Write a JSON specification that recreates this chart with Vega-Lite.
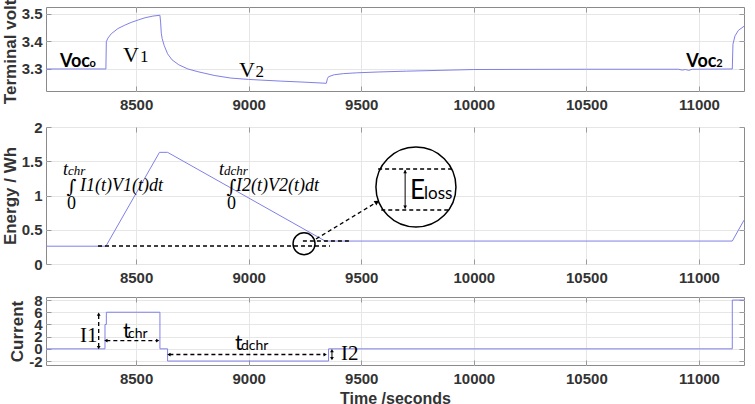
{
  "$schema": "https://vega.github.io/schema/vega-lite/v6.json",
  "padding": {"top": -7, "left": 0, "right": 5, "bottom": 5},
  "background": "white",
  "spacing": 6,
  "datasets": {
    "volt": [
      {"x": 8100, "y": 3.300}, {"x": 8366, "y": 3.300}, {"x": 8368, "y": 3.399}, {"x": 8375, "y": 3.412},
      {"x": 8390, "y": 3.428}, {"x": 8420, "y": 3.447}, {"x": 8450, "y": 3.459}, {"x": 8478, "y": 3.469},
      {"x": 8510, "y": 3.478}, {"x": 8540, "y": 3.486}, {"x": 8575, "y": 3.492}, {"x": 8606, "y": 3.495},
      {"x": 8609, "y": 3.470}, {"x": 8612, "y": 3.430}, {"x": 8616, "y": 3.410}, {"x": 8625, "y": 3.385},
      {"x": 8640, "y": 3.355}, {"x": 8660, "y": 3.333}, {"x": 8690, "y": 3.315}, {"x": 8730, "y": 3.300},
      {"x": 8775, "y": 3.290}, {"x": 8850, "y": 3.276}, {"x": 8920, "y": 3.267}, {"x": 9000, "y": 3.262},
      {"x": 9140, "y": 3.256}, {"x": 9250, "y": 3.252}, {"x": 9345, "y": 3.248}, {"x": 9350, "y": 3.265},
      {"x": 9355, "y": 3.272}, {"x": 9380, "y": 3.279}, {"x": 9420, "y": 3.283}, {"x": 9480, "y": 3.286},
      {"x": 9575, "y": 3.289}, {"x": 9700, "y": 3.292}, {"x": 9850, "y": 3.295}, {"x": 10000, "y": 3.298},
      {"x": 10500, "y": 3.299}, {"x": 10910, "y": 3.299}, {"x": 10925, "y": 3.296}, {"x": 10940, "y": 3.298},
      {"x": 10955, "y": 3.295}, {"x": 10970, "y": 3.299}, {"x": 11148, "y": 3.300}, {"x": 11151, "y": 3.390},
      {"x": 11160, "y": 3.420}, {"x": 11175, "y": 3.440}, {"x": 11200, "y": 3.455}
    ],
    "energy": [
      {"x": 8100, "y": 0.26}, {"x": 8366, "y": 0.26}, {"x": 8604, "y": 1.63}, {"x": 8640, "y": 1.63},
      {"x": 9340, "y": 0.335}, {"x": 11148, "y": 0.335}, {"x": 11200, "y": 0.64}
    ],
    "current": [
      {"x": 8100, "y": 0}, {"x": 8362, "y": 4}, {"x": 8368, "y": 6}, {"x": 8606, "y": 0},
      {"x": 8640, "y": -2}, {"x": 9355, "y": 0}, {"x": 11148, "y": 8}, {"x": 11200, "y": 8}
    ],
    "p1t": [
      {"x": 8162, "y": 3.307, "label": "Voc", "kind": "voc"},
      {"x": 10944, "y": 3.307, "label": "Voc", "kind": "voc"},
      {"x": 8293, "y": 3.307, "label": "o", "kind": "vocsub"},
      {"x": 11077, "y": 3.307, "label": "2", "kind": "vocsub"},
      {"x": 8442, "y": 3.325, "label": "V", "kind": "v"},
      {"x": 8957, "y": 3.271, "label": "V", "kind": "v"},
      {"x": 8518, "y": 3.325, "label": "1", "kind": "vsub"},
      {"x": 9030, "y": 3.271, "label": "2", "kind": "vsub"}
    ],
    "p2t": [
      {"x": 8175, "y": 1.30, "label": "t", "kind": "it"},
      {"x": 8868, "y": 1.30, "label": "t", "kind": "it"},
      {"x": 8251, "y": 1.07, "label": "I1(t)V1(t)dt", "kind": "it"},
      {"x": 8944, "y": 1.07, "label": "I2(t)V2(t)dt", "kind": "it"},
      {"x": 8198, "y": 1.30, "label": "chr", "kind": "sub"},
      {"x": 8890, "y": 1.30, "label": "dchr", "kind": "sub"},
      {"x": 8213, "y": 1.12, "label": "∫", "kind": "int"},
      {"x": 8924, "y": 1.12, "label": "∫", "kind": "int"},
      {"x": 8213, "y": 0.80, "label": "0", "kind": "zero"},
      {"x": 8924, "y": 0.80, "label": "0", "kind": "zero"},
      {"x": 9717, "y": 0.95, "label": "E", "kind": "E"},
      {"x": 9779, "y": 0.95, "label": "loss", "kind": "loss"}
    ],
    "p2rules": [
      {"x": 8331, "x2": 9361, "y": 0.263, "y2": 0.263, "kind": "dash"},
      {"x": 9241, "x2": 9450, "y": 0.336, "y2": 0.336, "kind": "dash"},
      {"x": 9575, "x2": 9905, "y": 1.387, "y2": 1.387, "kind": "dash"},
      {"x": 9589, "x2": 9889, "y": 0.788, "y2": 0.788, "kind": "dash"},
      {"x": 9299, "x2": 9570, "y": 0.365, "y2": 0.905, "kind": "dash"},
      {"x": 9695, "x2": 9695, "y": 0.81, "y2": 1.37, "kind": "solid"}
    ],
    "p2pts": [
      {"x": 9246, "y": 0.296, "kind": "small"},
      {"x": 9743, "y": 1.124, "kind": "big"},
      {"x": 9695, "y": 1.35, "kind": "up"},
      {"x": 9695, "y": 0.83, "kind": "down"},
      {"x": 9570, "y": 0.905, "kind": "head"}
    ],
    "p3t": [
      {"x": 8251, "y": 1.15, "label": "I1", "kind": "I"},
      {"x": 9410, "y": -1.8, "label": "I2", "kind": "I"},
      {"x": 8442, "y": 1.8, "label": "t", "kind": "t"},
      {"x": 8939, "y": -0.2, "label": "t", "kind": "t"},
      {"x": 8464, "y": 1.8, "label": "chr", "kind": "sub"},
      {"x": 8966, "y": -0.2, "label": "dchr", "kind": "sub"}
    ],
    "p3rules": [
      {"x": 8334, "x2": 8334, "y": 0.3, "y2": 5.6, "kind": "dash"},
      {"x": 8368, "x2": 8594, "y": 1.36, "y2": 1.36, "kind": "dash"},
      {"x": 8648, "x2": 9338, "y": -0.93, "y2": -0.93, "kind": "dash"},
      {"x": 9370, "x2": 9370, "y": -0.4, "y2": -1.5, "kind": "solid"}
    ],
    "p3pts": [
      {"x": 8334, "y": 5.7, "kind": "up"},
      {"x": 8334, "y": 0.2, "kind": "down"},
      {"x": 8366, "y": 1.36, "kind": "left"},
      {"x": 8596, "y": 1.36, "kind": "right"},
      {"x": 8646, "y": -0.93, "kind": "left"},
      {"x": 9340, "y": -0.93, "kind": "right"},
      {"x": 9370, "y": -0.3, "kind": "up"},
      {"x": 9370, "y": -1.6, "kind": "down"}
    ]
  },
  "vconcat": [
    {
      "width": 698, "height": 84,
      "layer": [
        {
          "encoding": {
            "x": {"field": "x", "type": "quantitative", "scale": {"domain": [8100, 11200], "nice": false, "zero": false},
                  "axis": {"values": [8500, 9000, 9500, 10000, 10500, 11000], "labelExpr": "datum.value + ''", "title": null}},
            "y": {"field": "y", "type": "quantitative", "scale": {"domain": [3.22, 3.525], "nice": false, "zero": false},
                  "axis": {"values": [3.3, 3.4, 3.5], "labelExpr": "datum.value + ''", "title": "Terminal volt."}}
          },
          "layer": [
            {"data": {"name": "volt"}, "mark": {"type": "line", "color": "#8080e8", "strokeWidth": 1}},
            {"data": {"name": "p1t"}, "transform": [{"filter": "datum.kind === 'voc'"}],
             "mark": {"type": "text", "font": "Lato", "fontWeight": "bold", "fontSize": 18, "align": "left", "baseline": "alphabetic", "color": "black"},
             "encoding": {"text": {"field": "label"}}},
            {"data": {"name": "p1t"}, "transform": [{"filter": "datum.kind === 'vocsub'"}],
             "mark": {"type": "text", "font": "Lato", "fontWeight": "bold", "fontSize": 11, "align": "left", "baseline": "alphabetic", "color": "black"},
             "encoding": {"text": {"field": "label"}}},
            {"data": {"name": "p1t"}, "transform": [{"filter": "datum.kind === 'v'"}],
             "mark": {"type": "text", "font": "Liberation Serif", "fontSize": 22, "align": "left", "baseline": "alphabetic", "color": "black"},
             "encoding": {"text": {"field": "label"}}},
            {"data": {"name": "p1t"}, "transform": [{"filter": "datum.kind === 'vsub'"}],
             "mark": {"type": "text", "font": "Liberation Serif", "fontSize": 17, "align": "left", "baseline": "alphabetic", "color": "black"},
             "encoding": {"text": {"field": "label"}}}
          ]
        },
        {
          "data": {"name": "volt"},
          "mark": {"type": "point", "opacity": 0},
          "encoding": {
            "x": {"field": "x", "type": "quantitative", "scale": {"domain": [8100, 11200], "nice": false, "zero": false},
                  "axis": {"orient": "top", "values": [8500, 9000, 9500, 10000, 10500, 11000], "labels": false, "grid": false, "title": null}},
            "y": {"field": "y", "type": "quantitative", "scale": {"domain": [3.22, 3.525], "nice": false, "zero": false},
                  "axis": {"orient": "right", "values": [3.3, 3.4, 3.5], "labels": false, "grid": false, "title": null}}
          }
        }
      ],
      "resolve": {"axis": {"x": "independent", "y": "independent"}}
    },
    {
      "width": 698, "height": 137,
      "layer": [
        {
          "encoding": {
            "x": {"field": "x", "type": "quantitative", "scale": {"domain": [8100, 11200], "nice": false, "zero": false},
                  "axis": {"values": [8500, 9000, 9500, 10000, 10500, 11000], "labelExpr": "datum.value + ''", "title": null}},
            "y": {"field": "y", "type": "quantitative", "scale": {"domain": [0, 2], "nice": false, "zero": false},
                  "axis": {"values": [0, 0.5, 1, 1.5, 2], "labelExpr": "datum.value + ''", "title": "Energy / Wh"}}
          },
          "layer": [
            {"data": {"name": "energy"}, "mark": {"type": "line", "color": "#8080e8", "strokeWidth": 1}},
            {"data": {"name": "p2rules"}, "transform": [{"filter": "datum.kind === 'dash'"}],
             "mark": {"type": "rule", "color": "black", "strokeWidth": 1.3, "strokeDash": [4, 3]},
             "encoding": {"x2": {"field": "x2"}, "y2": {"field": "y2"}}},
            {"data": {"name": "p2rules"}, "transform": [{"filter": "datum.kind === 'solid'"}],
             "mark": {"type": "rule", "color": "black", "strokeWidth": 1},
             "encoding": {"x2": {"field": "x2"}, "y2": {"field": "y2"}}},
            {"data": {"name": "p2pts"}, "transform": [{"filter": "datum.kind === 'small'"}],
             "mark": {"type": "point", "shape": "circle", "filled": false, "color": "black", "strokeWidth": 1.5, "opacity": 1, "size": 484}},
            {"data": {"name": "p2pts"}, "transform": [{"filter": "datum.kind === 'big'"}],
             "mark": {"type": "point", "shape": "circle", "filled": false, "color": "black", "strokeWidth": 1.5, "opacity": 1, "size": 6400}},
            {"data": {"name": "p2pts"}, "transform": [{"filter": "datum.kind === 'up'"}],
             "mark": {"type": "point", "shape": "triangle-up", "filled": true, "color": "black", "opacity": 1, "size": 14}},
            {"data": {"name": "p2pts"}, "transform": [{"filter": "datum.kind === 'down'"}],
             "mark": {"type": "point", "shape": "triangle-down", "filled": true, "color": "black", "opacity": 1, "size": 14}},
            {"data": {"name": "p2pts"}, "transform": [{"filter": "datum.kind === 'head'"}],
             "mark": {"type": "point", "shape": "triangle-right", "angle": -31, "filled": true, "color": "black", "opacity": 1, "size": 28}},
            {"data": {"name": "p2t"}, "transform": [{"filter": "datum.kind === 'it'"}],
             "mark": {"type": "text", "font": "Liberation Serif", "fontStyle": "italic", "fontSize": 18, "align": "left", "baseline": "alphabetic", "color": "black"},
             "encoding": {"text": {"field": "label"}}},
            {"data": {"name": "p2t"}, "transform": [{"filter": "datum.kind === 'sub'"}],
             "mark": {"type": "text", "font": "Liberation Serif", "fontStyle": "italic", "fontSize": 13, "align": "left", "baseline": "alphabetic", "color": "black"},
             "encoding": {"text": {"field": "label"}}},
            {"data": {"name": "p2t"}, "transform": [{"filter": "datum.kind === 'int'"}],
             "mark": {"type": "text", "font": "DejaVu Serif", "fontSize": 19, "align": "center", "baseline": "middle", "color": "black"},
             "encoding": {"text": {"field": "label"}}},
            {"data": {"name": "p2t"}, "transform": [{"filter": "datum.kind === 'zero'"}],
             "mark": {"type": "text", "font": "Liberation Serif", "fontSize": 18, "align": "center", "baseline": "alphabetic", "color": "black"},
             "encoding": {"text": {"field": "label"}}},
            {"data": {"name": "p2t"}, "transform": [{"filter": "datum.kind === 'E'"}],
             "mark": {"type": "text", "font": "Lato", "fontSize": 26, "align": "left", "baseline": "alphabetic", "color": "black"},
             "encoding": {"text": {"field": "label"}}},
            {"data": {"name": "p2t"}, "transform": [{"filter": "datum.kind === 'loss'"}],
             "mark": {"type": "text", "font": "Lato", "fontSize": 17, "align": "left", "baseline": "alphabetic", "color": "black"},
             "encoding": {"text": {"field": "label"}}}
          ]
        },
        {
          "data": {"name": "energy"},
          "mark": {"type": "point", "opacity": 0},
          "encoding": {
            "x": {"field": "x", "type": "quantitative", "scale": {"domain": [8100, 11200], "nice": false, "zero": false},
                  "axis": {"orient": "top", "values": [8500, 9000, 9500, 10000, 10500, 11000], "labels": false, "grid": false, "title": null}},
            "y": {"field": "y", "type": "quantitative", "scale": {"domain": [0, 2], "nice": false, "zero": false},
                  "axis": {"orient": "right", "values": [0, 0.5, 1, 1.5, 2], "labels": false, "grid": false, "title": null}}
          }
        }
      ],
      "resolve": {"axis": {"x": "independent", "y": "independent"}}
    },
    {
      "width": 698, "height": 68,
      "layer": [
        {
          "encoding": {
            "x": {"field": "x", "type": "quantitative", "scale": {"domain": [8100, 11200], "nice": false, "zero": false},
                  "axis": {"values": [8500, 9000, 9500, 10000, 10500, 11000], "labelExpr": "datum.value + ''", "title": "Time /seconds", "titleFontSize": 16}},
            "y": {"field": "y", "type": "quantitative", "scale": {"domain": [-2.65, 8.5], "nice": false, "zero": false},
                  "axis": {"values": [-2, 0, 2, 4, 6, 8], "labelExpr": "datum.value + ''", "title": "Current"}}
          },
          "layer": [
            {"data": {"name": "current"}, "mark": {"type": "line", "color": "#8080e8", "strokeWidth": 1, "interpolate": "step-after"}},
            {"data": {"name": "p3rules"}, "transform": [{"filter": "datum.kind === 'dash'"}],
             "mark": {"type": "rule", "color": "black", "strokeWidth": 1.3, "strokeDash": [4, 3]},
             "encoding": {"x2": {"field": "x2"}, "y2": {"field": "y2"}}},
            {"data": {"name": "p3rules"}, "transform": [{"filter": "datum.kind === 'solid'"}],
             "mark": {"type": "rule", "color": "black", "strokeWidth": 1},
             "encoding": {"x2": {"field": "x2"}, "y2": {"field": "y2"}}},
            {"data": {"name": "p3pts"}, "transform": [{"filter": "datum.kind === 'up'"}],
             "mark": {"type": "point", "shape": "triangle-up", "filled": true, "color": "black", "opacity": 1, "size": 14}},
            {"data": {"name": "p3pts"}, "transform": [{"filter": "datum.kind === 'down'"}],
             "mark": {"type": "point", "shape": "triangle-down", "filled": true, "color": "black", "opacity": 1, "size": 14}},
            {"data": {"name": "p3pts"}, "transform": [{"filter": "datum.kind === 'left'"}],
             "mark": {"type": "point", "shape": "triangle-left", "filled": true, "color": "black", "opacity": 1, "size": 14}},
            {"data": {"name": "p3pts"}, "transform": [{"filter": "datum.kind === 'right'"}],
             "mark": {"type": "point", "shape": "triangle-right", "filled": true, "color": "black", "opacity": 1, "size": 14}},
            {"data": {"name": "p3t"}, "transform": [{"filter": "datum.kind === 'I'"}],
             "mark": {"type": "text", "font": "Liberation Serif", "fontSize": 21, "align": "left", "baseline": "alphabetic", "color": "black"},
             "encoding": {"text": {"field": "label"}}},
            {"data": {"name": "p3t"}, "transform": [{"filter": "datum.kind === 't'"}],
             "mark": {"type": "text", "font": "Lato", "fontSize": 21, "align": "left", "baseline": "alphabetic", "color": "black"},
             "encoding": {"text": {"field": "label"}}},
            {"data": {"name": "p3t"}, "transform": [{"filter": "datum.kind === 'sub'"}],
             "mark": {"type": "text", "font": "Lato", "fontSize": 14, "align": "left", "baseline": "alphabetic", "color": "black"},
             "encoding": {"text": {"field": "label"}}}
          ]
        },
        {
          "data": {"name": "current"},
          "mark": {"type": "point", "opacity": 0},
          "encoding": {
            "x": {"field": "x", "type": "quantitative", "scale": {"domain": [8100, 11200], "nice": false, "zero": false},
                  "axis": {"orient": "top", "values": [8500, 9000, 9500, 10000, 10500, 11000], "labels": false, "grid": false, "title": null}},
            "y": {"field": "y", "type": "quantitative", "scale": {"domain": [-2.65, 8.5], "nice": false, "zero": false},
                  "axis": {"orient": "right", "values": [-2, 0, 2, 4, 6, 8], "labels": false, "grid": false, "title": null}}
          }
        }
      ],
      "resolve": {"axis": {"x": "independent", "y": "independent"}}
    }
  ],
  "config": {
    "view": {"stroke": "#8a8a8a", "strokeWidth": 1},
    "axis": {
      "labelFont": "Liberation Sans", "labelFontWeight": "bold", "labelFontSize": 15, "labelColor": "#333333",
      "titleFont": "Liberation Sans", "titleFontWeight": "bold", "titleFontSize": 17, "titleColor": "#333333",
      "gridColor": "#e6e6e6", "gridWidth": 1, "domain": false, "labelOverlap": false,
      "tickColor": "#9a9a9a", "tickSize": -5, "labelPadding": 11, "titlePadding": 4
    },
    "axisY": {"labelPadding": 9, "titlePadding": 2}
  }
}
